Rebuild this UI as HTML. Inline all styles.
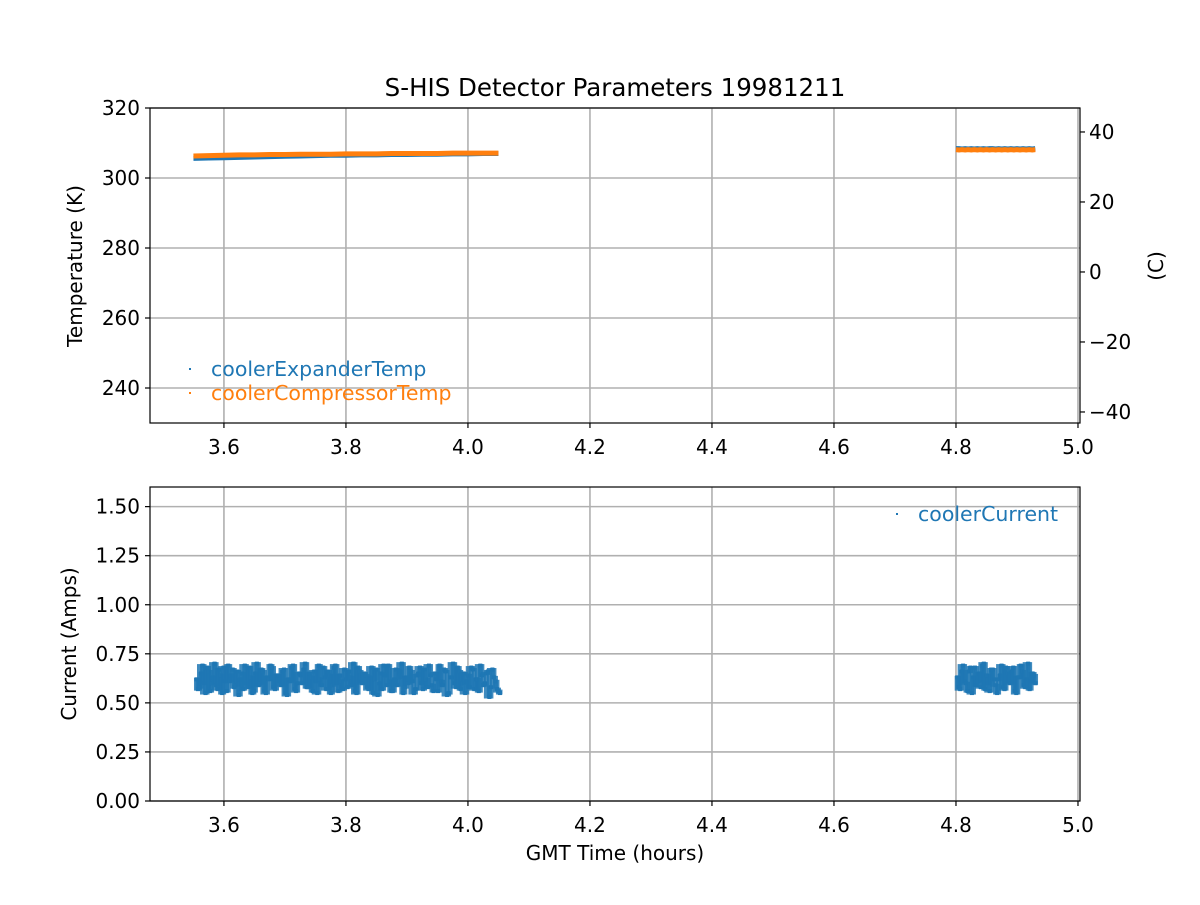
<!DOCTYPE html>
<html><head><meta charset="utf-8"><style>
body{margin:0;background:#fff}
svg text{font-family:"DejaVu Sans","Liberation Sans",sans-serif;fill:#000}
</style></head><body>
<svg id="c" width="1200" height="900" xmlns="http://www.w3.org/2000/svg"></svg>
<script>
const xTicks=[3.6,3.8,4.0,4.2,4.4,4.6,4.8,5.0];
const xTickLabels=["3.6","3.8","4.0","4.2","4.4","4.6","4.8","5.0"];
const kTicks=[240,260,280,300,320];
const cTicks=[-40,-20,0,20,40];
const cTickLabels=["\u221240","\u221220","0","20","40"];
const aTicks=[0,0.25,0.5,0.75,1.0,1.25,1.5];
const aTickLabels=["0.00","0.25","0.50","0.75","1.00","1.25","1.50"];
const expander1=[305.6,305.7,305.8,305.9,306.0,306.1,306.2,306.3,306.4,306.5,306.5,306.6,306.6,306.7,306.7,306.8,306.8,306.9,306.9,307.0,307.0];
const compressor1=[306.3,306.4,306.5,306.6,306.6,306.7,306.7,306.8,306.8,306.8,306.9,306.9,306.9,307.0,307.0,307.0,307.0,307.1,307.1,307.1,307.1];
const expander2=[308.4,308.4,308.3,308.4,308.3,308.4,308.3,308.4,308.3,308.4,308.3,308.4,308.4,308.3,308.4,308.3,308.4,308.3,308.4,308.3,308.4,308.3,308.4,308.3,308.4,308.3,308.4];
const compressor2=[308.1,308.0,308.1,308.0,308.1,308.0,308.1,308.0,308.1,308.0,308.1,308.0,308.1,308.0,308.1,308.0,308.1,308.0,308.1,308.0,308.1,308.0,308.1,308.0,308.1,308.0,308.1];
const current1=[0.62,0.58,0.69,0.55,0.66,0.60,0.70,0.57,0.64,0.68,0.56,0.61,0.67,0.59,0.54,0.65,0.69,0.58,0.63,0.56,0.70,0.60,0.66,0.55,0.62,0.68,0.57,0.64,0.59,0.67,0.54,0.61,0.69,0.56,0.65,0.60,0.70,0.58,0.63,0.66,0.55,0.62,0.68,0.57,0.64,0.59,0.69,0.56,0.61,0.67,0.58,0.63,0.70,0.55,0.66,0.60,0.64,0.57,0.68,0.62,0.54,0.65,0.69,0.59,0.61,0.56,0.67,0.63,0.70,0.58,0.60,0.66,0.55,0.64,0.68,0.57,0.62,0.69,0.59,0.65,0.56,0.61,0.67,0.54,0.63,0.70,0.58,0.66,0.60,0.55,0.64,0.68,0.57,0.62,0.69,0.59,0.65,0.53,0.67,0.61,0.56];
const current1b=[0.57,0.65,0.60,0.68,0.56,0.63,0.59,0.67,0.55,0.61,0.69,0.64,0.58,0.66,0.62,0.57,0.60,0.68,0.55,0.65,0.59,0.67,0.56,0.63,0.69,0.58,0.64,0.61,0.66,0.55,0.62,0.68,0.57,0.60,0.64,0.67,0.58,0.65,0.56,0.61,0.69,0.59,0.63,0.66,0.55,0.68,0.60,0.64,0.57,0.62,0.66,0.59,0.56,0.68,0.61,0.65,0.58,0.63,0.55,0.67,0.60,0.57,0.64,0.69,0.56,0.62,0.59,0.66,0.55,0.63,0.68,0.61,0.57,0.65,0.60,0.67,0.58,0.64,0.56,0.62,0.69,0.59,0.66,0.55,0.63,0.60,0.68,0.57,0.65,0.61,0.58,0.67,0.62,0.56,0.64,0.60,0.66,0.58,0.63,0.57,0.55];
const current2=[0.63,0.57,0.69,0.60,0.66,0.55,0.68,0.61,0.58,0.70,0.64,0.56,0.67,0.59,0.62,0.69,0.57,0.65,0.60,0.68,0.55,0.63,0.66,0.58,0.70,0.61,0.64];
const current2b=[0.58,0.66,0.61,0.56,0.68,0.63,0.59,0.65,0.69,0.57,0.60,0.67,0.62,0.55,0.64,0.58,0.68,0.61,0.66,0.56,0.63,0.69,0.59,0.62,0.57,0.65,0.60];

const NS="http://www.w3.org/2000/svg", svg=document.getElementById('c');
function mk(tag,at,parent){const e=document.createElementNS(NS,tag);for(const k in at)e.setAttribute(k,at[k]);(parent||svg).appendChild(e);return e;}
const L=150,R=1080,T1=108,B1=423,T2=487,B2=801;
const X=v=>L+(v-3.4788)/(5.0033-3.4788)*(R-L);
const YK=v=>B1-(v-230)/(320-230)*(B1-T1);
const YC=v=>YK(v+273.15);
const YA=v=>B2-(v-0)/1.6*(B2-T2);
const blue="#1f77b4",orange="#ff7f0e";
const FS=20;

function axes(T,B,yt,ytl,Y,name){
  const g=mk('g',{});
  xTicks.forEach((v,i)=>{const x=X(v);
    mk('line',{x1:x,x2:x,y1:T,y2:B,stroke:'#b0b0b0','stroke-width':1.6},g);
    mk('line',{x1:x,x2:x,y1:B,y2:B+5,stroke:'#000','stroke-width':1.2});
    const t=mk('text',{x:x,y:B+31,'text-anchor':'middle','font-size':FS});t.textContent=xTickLabels[i];
    });
  yt.forEach((v,i)=>{const y=Y(v);
    mk('line',{x1:L,x2:R,y1:y,y2:y,stroke:'#b0b0b0','stroke-width':1.6},g);
    mk('line',{x1:L-5,x2:L,y1:y,y2:y,stroke:'#000','stroke-width':1.2});
    const t=mk('text',{x:L-10,y:y+7,'text-anchor':'end','font-size':FS});t.textContent=ytl[i];
    });
}
axes(T1,B1,kTicks,kTicks.map(String),YK,'top');
axes(T2,B2,aTicks,aTickLabels,YA,'bottom');
cTicks.forEach((v,i)=>{const y=YC(v);
  mk('line',{x1:R,x2:R+5,y1:y,y2:y,stroke:'#000','stroke-width':1.2});
  const t=mk('text',{x:R+9,y:y+7,'font-size':FS});t.textContent=cTickLabels[i];
  });

function line(vals,start,end,Y,color,name){
  const pts=vals.map((v,i)=>X(start+(end-start)*i/(vals.length-1))+','+Y(v)).join(' ');
  const p=mk('polyline',{points:pts,fill:'none',stroke:color,'stroke-width':5});
  
}
function band(a,b,start,end,Y,color,name){
  const g=mk('g',{fill:color});
  const n=a.length;
  a.forEach((v,i)=>{const w=b[i];
    const nb=[v,w,a[Math.min(i+1,n-1)],b[Math.max(i-1,0)]];
    const x=X(start+(end-start)*i/(n-1));
    const x2=X(start+(end-start)*(i+0.5)/(n-1));
    const hi=Math.max(...nb),lo=Math.min(...nb);
    mk('rect',{x:x-2.5,y:Y(hi)-1.5,width:5,height:Y(lo)-Y(hi)+3,'fill-opacity':0.85},g);
    mk('rect',{x:x2-2.5,y:Y(Math.max(v,w))-1.5,width:5,height:Y(Math.min(v,w))-Y(Math.max(v,w))+3,'fill-opacity':0.85},g);
    mk('rect',{x:x-2,y:Y(v)-2,width:4,height:4},g);
    mk('rect',{x:x2-2,y:Y(w)-2,width:4,height:4},g);});
}
line(expander1,3.55,4.05,YK,blue,'cooler-expander-temp-seg1');
line(expander2,4.80,4.93,YK,blue,'cooler-expander-temp-seg2');
line(compressor1,3.55,4.05,YK,orange,'cooler-compressor-temp-seg1');
line(compressor2,4.80,4.93,YK,orange,'cooler-compressor-temp-seg2');
band(current1,current1b,3.555,4.05,YA,blue,'cooler-current-seg1');
band(current2,current2b,4.802,4.928,YA,blue,'cooler-current-seg2');

mk('rect',{x:L,y:T1,width:R-L,height:B1-T1,fill:'none',stroke:'#000','stroke-width':1.2});
mk('rect',{x:L,y:T2,width:R-L,height:B2-T2,fill:'none',stroke:'#000','stroke-width':1.2});
function txt(s,at,name){const t=mk('text',at);t.textContent=s;return t;}
txt('S-HIS Detector Parameters 19981211',{x:615,y:96,'text-anchor':'middle','font-size':24.5},'chart-title');
txt('Temperature (K)',{x:0,y:0,'text-anchor':'middle','font-size':FS,transform:'translate(82,266) rotate(-90)'},'y-axis-title-left');
txt('(C)',{x:0,y:0,'text-anchor':'middle','font-size':FS,transform:'translate(1163,266) rotate(-90)'},'y-axis-title-right');
txt('Current (Amps)',{x:0,y:0,'text-anchor':'middle','font-size':FS,transform:'translate(76,644) rotate(-90)'},'y-axis-title-bottom');
txt('GMT Time (hours)',{x:615,y:860,'text-anchor':'middle','font-size':FS},'x-axis-title');
mk('rect',{x:189,y:368,width:2,height:2,fill:blue});
txt('coolerExpanderTemp',{x:211,y:376,'font-size':20.5,style:'fill:'+blue},'legend-entry-expander');
mk('rect',{x:189,y:392,width:2,height:2,fill:orange});
txt('coolerCompressorTemp',{x:211,y:400,'font-size':20.5,style:'fill:'+orange},'legend-entry-compressor');
mk('rect',{x:896,y:513,width:2,height:2,fill:blue});
txt('coolerCurrent',{x:918,y:521,'font-size':20.5,style:'fill:'+blue},'legend-entry-current');
</script>
</body></html>
